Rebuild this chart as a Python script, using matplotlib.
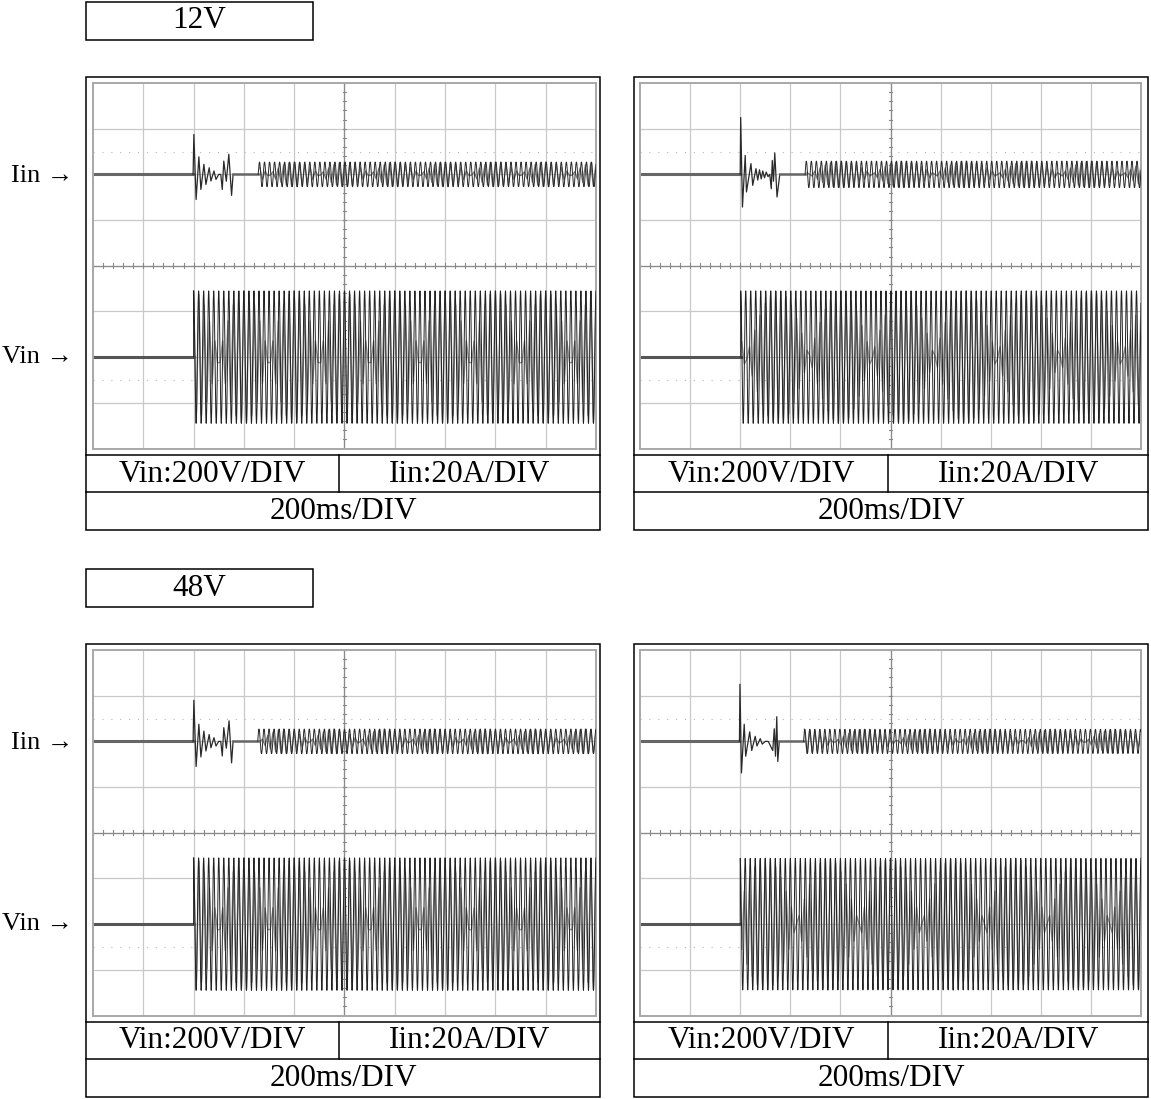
import matplotlib
matplotlib.use("Agg")
import matplotlib.pyplot as plt
import numpy as np
from matplotlib.patches import Rectangle

# ---- values ----
ROW_TITLES = ["12V", "48V"]
SCALE_LABELS = ["Vin:200V/DIV", "Iin:20A/DIV", "200ms/DIV"]
CHANNEL_LABELS = ["Iin →", "Vin →"]

T_END_MS = 2000
V_PER_DIV = 200
A_PER_DIV = 20
IIN_OFFSET_DIV = 2.0
VIN_OFFSET_DIV = -2.0

# panels: top-left, top-right, bottom-left, bottom-right
LINE_FREQ_HZ = [50, 50, 50, 50]
VIN_PEAK_V = [290, 290, 290, 288]
VIN_ON_MS = [400, 402, 400, 400]
IIN_STEADY_A = [5.4, 5.8, 5.4, 5.3]
IIN_STEADY_ON_MS = [657, 659, 655, 653]

IIN_TRANSIENT_T = [
    [398, 401, 410, 421, 429, 441, 449, 462, 469, 481, 489, 500, 508, 514, 520, 530, 540, 551, 557],
    [400, 402, 409, 420, 425, 443, 450, 463, 470, 477, 484, 490, 497, 504, 511, 518, 524, 528, 533, 538, 547, 558],
    [398, 401, 410, 421, 429, 441, 449, 462, 469, 481, 489, 500, 508, 514, 520, 530, 541, 551, 557],
    [397, 399, 405, 416, 422, 438, 446, 460, 467, 480, 488, 500, 512, 530, 536, 541, 546, 550, 556],
]
IIN_TRANSIENT_A = [
    [0, 17.5, -11, 7.7, -6.6, 4.4, -4.4, 2.9, -2.9, 1.5, -2.2, 0, 0, -6.6, 5.8, -3, 8.8, -9.2, 0],
    [0, 24.9, -14.3, 8.3, -7.7, 4.7, -4.8, 2.5, -2.5, 2, -2, 1.5, -1.5, 1, -1, 0, -6.3, 6.1, -3, 9.4, -9.9, 0],
    [0, 18.0, -11, 7.5, -6.8, 4.5, -4.2, 3.0, -2.8, 1.6, -2.0, 0, 0, -6.4, 6.0, -3, 9.0, -9.4, 0],
    [0, 25.0, -13.8, 7.5, -6.5, 4.2, -4.0, 2.2, -2.0, 1.2, -1.2, 0, 0, -4, 5.5, -6.5, 10.8, -8.8, 0],
]

# scope display sampling (gives the moire seen on the screenshots)
DISPLAY_RATE_HZ = [95, 96, 95, 96]

# ---- layout in pixels (top row; bottom row is shifted down) ----
W, H = 1151, 1099
ROW_SHIFT = 567
PANEL_X = [(86, 600), (634, 1148.5)]
GRID_X = [(93, 596), (640, 1141)]
MID_X = [339, 888]

fig = plt.figure(figsize=(W / 100, H / 100), dpi=100)
bg = fig.add_axes([0, 0, 1, 1])
bg.set_xlim(0, W)
bg.set_ylim(H, 0)
bg.axis("off")

serif = ["Liberation Serif", "DejaVu Serif"]


def grid_axes(x0, x1, y0, y1):
    return fig.add_axes([x0 / W, 1 - y1 / H, (x1 - x0) / W, (y1 - y0) / H])


for row in range(2):
    dy = row * ROW_SHIFT

    # row title box
    bg.add_patch(Rectangle((86, 1.5 + dy), 227, 38, fill=False, lw=1.1, ec="black"))
    bg.text(199.5, 21 + dy, ROW_TITLES[row], ha="center", va="center",
            fontsize=22.5, family=serif)

    # channel labels on the left
    bg.text(73, 176 + dy, CHANNEL_LABELS[0], ha="right", va="center",
            fontsize=19, family=serif)
    bg.text(73, 357 + dy, CHANNEL_LABELS[1], ha="right", va="center",
            fontsize=19, family=serif)

    for col in range(2):
        k = row * 2 + col
        px0, px1 = PANEL_X[col]

        # outer frame and scale table
        bg.add_patch(Rectangle((px0, 77 + dy), px1 - px0, 453, fill=False, lw=1.1, ec="black"))
        bg.plot([px0, px1], [455 + dy, 455 + dy], color="black", lw=1.1)
        bg.plot([px0, px1], [492.3 + dy, 492.3 + dy], color="black", lw=1.1)
        bg.plot([MID_X[col], MID_X[col]], [455 + dy, 492.3 + dy], color="black", lw=1.1)
        bg.text((px0 + MID_X[col]) / 2, 474 + dy, SCALE_LABELS[0], ha="center",
                va="center", fontsize=22.5, family=serif)
        bg.text((MID_X[col] + px1) / 2, 474 + dy, SCALE_LABELS[1], ha="center",
                va="center", fontsize=22.5, family=serif)
        bg.text((px0 + px1) / 2, 511.5 + dy, SCALE_LABELS[2], ha="center",
                va="center", fontsize=22.5, family=serif)

        # scope screen
        gx0, gx1 = GRID_X[col]
        ax = grid_axes(gx0, gx1, 83 + dy, 448.5 + dy)
        ax.set_xlim(0, T_END_MS)
        ax.set_ylim(-4, 4)
        ax.set_xticks([])
        ax.set_yticks([])
        for s in ax.spines.values():
            s.set_color("#a8a8a8")
            s.set_linewidth(1.4)

        div_t = T_END_MS / 10
        for i in range(1, 10):
            ax.axvline(i * div_t, color="#c8c8c8", lw=0.9, zorder=0)
        for j in range(-3, 4):
            ax.axhline(j, color="#c8c8c8", lw=0.9, zorder=0)
        ax.axvline(5 * div_t, color="#8a8a8a", lw=0.9, zorder=0)
        ax.axhline(0, color="#8a8a8a", lw=0.9, zorder=0)
        for m in np.arange(-4, 4.01, 0.2):
            ax.plot([5 * div_t - 6, 5 * div_t + 6], [m, m], color="#8a8a8a", lw=0.8, zorder=0)
        for m in np.arange(0, T_END_MS + 1, div_t / 5):
            ax.plot([m, m], [-0.05, 0.05], color="#8a8a8a", lw=0.8, zorder=0)
        for yd in (2.5, -2.5):
            ax.axhline(yd, color="#b8b8b8", lw=0.8, ls=(0, (1, 7)), zorder=0)

        w = 2 * np.pi * LINE_FREQ_HZ[k] / 1000.0
        t = np.arange(0, T_END_MS + 0.05, 0.1)
        td = np.arange(0, T_END_MS + 0.05, 1000.0 / DISPLAY_RATE_HZ[k])

        # input voltage
        on = VIN_ON_MS[k]
        ax.plot([0, on], [VIN_OFFSET_DIV, VIN_OFFSET_DIV], color="#555555", lw=2.2)
        td_on = td[td >= on]
        ax.plot(td_on, VIN_PEAK_V[k] * np.cos(w * (td_on - on)) / V_PER_DIV + VIN_OFFSET_DIV,
                color="#8e8e8e", lw=1.0, zorder=2)
        t_on = t[t >= on]
        ax.plot(np.r_[on, t_on],
                np.r_[0, VIN_PEAK_V[k] * np.cos(w * (t_on - on))] / V_PER_DIV + VIN_OFFSET_DIV,
                color="#222222", lw=0.7, zorder=3)

        # input current
        tt = np.array(IIN_TRANSIENT_T[k], dtype=float)
        ia = np.array(IIN_TRANSIENT_A[k], dtype=float)
        ax.plot([0, tt[0]], [IIN_OFFSET_DIV, IIN_OFFSET_DIV], color="#666666", lw=2.2)
        ax.plot(tt, ia / A_PER_DIV + IIN_OFFSET_DIV, color="#2a2a2a", lw=0.9)
        ax.plot([tt[-1], IIN_STEADY_ON_MS[k]], [IIN_OFFSET_DIV, IIN_OFFSET_DIV],
                color="#666666", lw=1.8)
        st = IIN_STEADY_ON_MS[k]
        td_st = td[td >= st]
        ax.plot(td_st, IIN_STEADY_A[k] * np.sin(w * (td_st - st) + 0.6) / A_PER_DIV + IIN_OFFSET_DIV,
                color="#7a7a7a", lw=0.9, zorder=2)
        ts = t[t >= st]
        ax.plot(ts, IIN_STEADY_A[k] * np.sin(w * (ts - st)) / A_PER_DIV + IIN_OFFSET_DIV,
                color="#2a2a2a", lw=0.7, zorder=3)

fig.savefig("out.png", dpi=100)
